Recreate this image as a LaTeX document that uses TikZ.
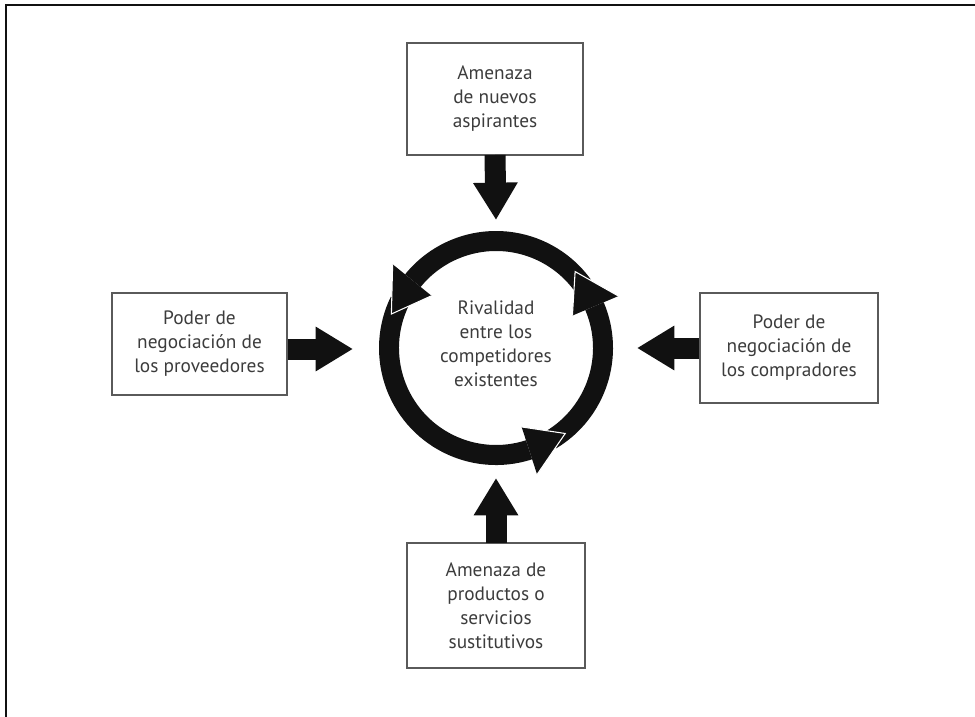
\documentclass[tikz,border=0pt]{standalone}
\usepackage{fontspec}
\setmainfont{PT Sans}
\usetikzlibrary{arrows.meta}
\definecolor{boxgray}{HTML}{5A5A5A}
\definecolor{txtgray}{HTML}{3C3C3C}
\definecolor{inkblack}{HTML}{111111}
\begin{document}
\begin{tikzpicture}[x=0.75pt,y=-0.75pt,
  box/.style={draw=boxgray, line width=1.1pt, align=center, text=txtgray,
    font=\fontsize{14.5}{18}\selectfont, inner sep=0pt},
  bigarrow/.style={draw=inkblack, line width=15.75pt,
    -{Triangle[length=28pt,width=31.5pt]}},
  ringbody/.style={fill=inkblack},
  ringhead/.style={fill=inkblack},
  ringedge/.style={draw=white, line width=0.8pt}]
\useasboundingbox (0,0) rectangle (975,717);
% frame
\draw[inkblack, line width=1.5pt] (6,717) -- (6,5) -- (975,5);

% boxes
\node[box, minimum width=132pt, minimum height=84pt] (top) at (495,99)
  {Amenaza\\de nuevos\\aspirantes};
\node[box, minimum width=131pt, minimum height=76.5pt] (left) at (199.5,344)
  {Poder de\\negociación de\\los proveedores};
\node[box, minimum width=133.5pt, minimum height=82.5pt] (right) at (789,348)
  {Poder de\\negociación de\\los compradores};
\node[box, minimum width=133.5pt, minimum height=94pt] (bottom) at (496,605.5)
  {Amenaza de\\productos o\\servicios\\sustitutivos};
\node[text=txtgray, align=center, font=\fontsize{14.5}{18}\selectfont, inner sep=0pt]
  (center) at (496,344) {Rivalidad\\entre los\\competidores\\existentes};

% tip coordinates
\coordinate (tipT) at (496,220);
\coordinate (tipB) at (496,478);
\coordinate (tipL) at (353,349);
\coordinate (tipR) at (637,348);

\draw[bigarrow] (top.south |- 0,155) -- (tipT);
\draw[bigarrow] (bottom.north |- 0,543) -- (tipB);
\draw[bigarrow] (left.east |- tipL) -- (tipL);
\draw[bigarrow] (right.west |- tipR) -- (tipR);

% ring of three curved arrows
\begin{scope}[shift={(496,348)}, x=0.75pt, y=0.75pt]
  % bodies
  \foreach \a/\e in {36/162, 154/309, 301/404}{
    \pgfmathsetmacro{\b}{\e-21}
    \fill[ringbody] (\a:97) arc[start angle=\a, end angle=\b, radius=97]
      -- (\b:117) arc[start angle=\b, end angle=\a, radius=117] -- cycle;
  }
  % heads
  \foreach \e in {162, 309, 404}{
    \pgfmathsetmacro{\b}{\e-21}
    \fill[ringhead] (\b:83) -- (\e:110) -- (\b:133) -- cycle;
    \draw[ringedge] (\b:83) -- (\e:110) -- (\b:133);
  }
\end{scope}
\end{tikzpicture}
\end{document}
